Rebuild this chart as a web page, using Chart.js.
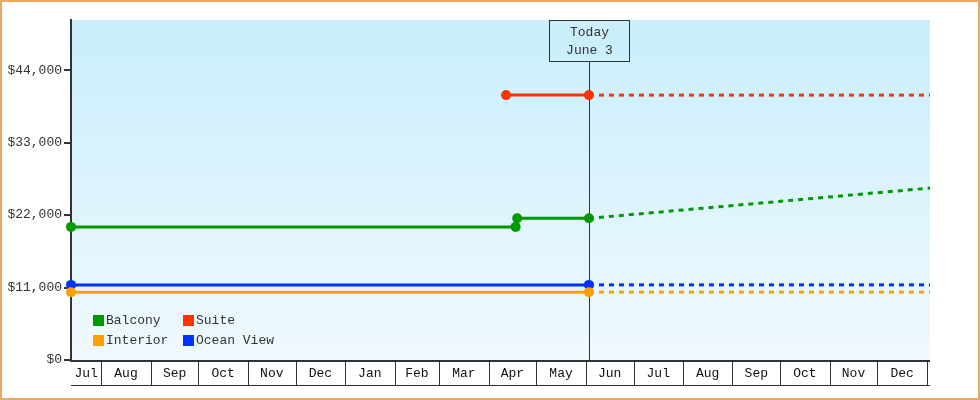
<!DOCTYPE html>
<html>
<head>
<meta charset="utf-8">
<script src="https://cdn.jsdelivr.net/npm/chart.js@4.4.0/dist/chart.umd.min.js"></script>
<style>
  html, body { margin: 0; padding: 0; background: #fff; }
  #wrap { width: 980px; height: 400px; }
</style>
</head>
<body>
<div id="wrap"><canvas id="priceChart" width="980" height="400"></canvas></div>
<script>
// --- Data ---
const seriesNames = ['Balcony', 'Suite', 'Interior', 'Ocean View'];
const seriesColors = ['#009900', '#ff3300', '#ffa000', '#0033ff'];

// recorded prices (solid) and projected prices (dashed)
const balconyDates = ['2022-07-13', '2023-04-18', '2023-04-19', '2023-06-03'];
const balconyPrices = [20200, 20200, 21500, 21500];
const balconyForecastDates = ['2023-06-03', '2024-01-03'];
const balconyForecast = [21500, 26100];

const suiteDates = ['2023-04-12', '2023-06-03'];
const suitePrices = [40200, 40200];
const suiteForecastDates = ['2023-06-03', '2024-01-03'];
const suiteForecast = [40200, 40200];

const interiorDates = ['2022-07-13', '2023-06-03'];
const interiorPrices = [10300, 10300];
const interiorForecastDates = ['2023-06-03', '2024-01-03'];
const interiorForecast = [10300, 10300];

const oceanDates = ['2022-07-13', '2023-06-03'];
const oceanPrices = [11400, 11400];
const oceanForecastDates = ['2023-06-03', '2024-01-03'];
const oceanForecast = [11400, 11400];

const monthLabels = ['Jul', 'Aug', 'Sep', 'Oct', 'Nov', 'Dec', 'Jan', 'Feb', 'Mar',
                     'Apr', 'May', 'Jun', 'Jul', 'Aug', 'Sep', 'Oct', 'Nov', 'Dec'];
const yTicks = [0, 11000, 22000, 33000, 44000];
const todayDate = '2023-06-03';
const todayText = ['Today', 'June 3'];
const axisStart = '2022-07-13';
const axisEnd = '2024-01-03';

// --- Helpers ---
const EPOCH = Date.UTC(2022, 6, 1);
function dayNum(s) {
    return (Date.parse(s + 'T00:00:00Z') - EPOCH) / 86400000;
}
function toPoints(dates, values) {
    return dates.map((d, i) => ({ x: dayNum(d), y: values[i] }));
}

const FONT = "'Liberation Mono', 'DejaVu Sans Mono', monospace";
const INK = '#333333';

const solid = [
    toPoints(balconyDates, balconyPrices),
    toPoints(suiteDates, suitePrices),
    toPoints(interiorDates, interiorPrices),
    toPoints(oceanDates, oceanPrices)
];
const dashed = [
    toPoints(balconyForecastDates, balconyForecast),
    toPoints(suiteForecastDates, suiteForecast),
    toPoints(interiorForecastDates, interiorForecast),
    toPoints(oceanForecastDates, oceanForecast)
];

const datasets = [];
seriesNames.forEach((name, i) => {
    datasets.push({
        label: name + ' forecast',
        data: dashed[i],
        borderColor: seriesColors[i],
        borderWidth: 3,
        borderDash: [5, 5],
        pointRadius: 0,
        clip: false
    });
    datasets.push({
        label: name,
        data: solid[i],
        borderColor: seriesColors[i],
        backgroundColor: seriesColors[i],
        borderWidth: 3,
        pointRadius: 5,
        pointStyle: 'circle',
        pointBorderWidth: 0,
        clip: false
    });
});

// --- Custom drawing: background, month cells, today marker, legend, frame ---
const decorPlugin = {
    id: 'decor',
    beforeDraw(chart) {
        const { ctx, chartArea: a } = chart;
        ctx.save();
        ctx.fillStyle = '#ffffff';
        ctx.fillRect(0, 0, chart.width, chart.height);
        const g = ctx.createLinearGradient(0, a.top, 0, a.bottom);
        g.addColorStop(0, '#c9eefc');
        g.addColorStop(1, '#f0f9fe');
        ctx.fillStyle = g;
        ctx.fillRect(a.left, a.top, a.right - a.left, a.bottom - a.top);
        ctx.restore();
    },
    beforeDatasetsDraw(chart) {
        const { ctx, chartArea: a, scales: { x } } = chart;
        const tx = Math.round(x.getPixelForValue(dayNum(todayDate))) + 0.5;
        const boxW = 80, boxH = 41;
        ctx.save();
        ctx.strokeStyle = INK;
        ctx.lineWidth = 1;
        ctx.strokeRect(tx - boxW / 2, a.top + 0.5, boxW, boxH);
        ctx.beginPath();
        ctx.moveTo(tx, a.top + 0.5 + boxH);
        ctx.lineTo(tx, a.bottom);
        ctx.stroke();
        ctx.fillStyle = INK;
        ctx.font = '13px ' + FONT;
        ctx.textAlign = 'center';
        ctx.textBaseline = 'middle';
        ctx.fillText(todayText[0], tx, a.top + 13);
        ctx.fillText(todayText[1], tx, a.top + 31);
        ctx.restore();
    },
    afterDraw(chart) {
        const { ctx, chartArea: a, scales: { x } } = chart;
        const rowH = 25;
        ctx.save();
        ctx.strokeStyle = INK;
        // x axis line and bottom of month row
        ctx.lineWidth = 2;
        ctx.beginPath();
        ctx.moveTo(a.left - 1, a.bottom + 1);
        ctx.lineTo(a.right, a.bottom + 1);
        ctx.stroke();
        ctx.lineWidth = 1;
        ctx.beginPath();
        ctx.moveTo(a.left, a.bottom + rowH + 0.5);
        ctx.lineTo(a.right, a.bottom + rowH + 0.5);
        ctx.stroke();

        // month cells
        ctx.font = '13px ' + FONT;
        ctx.fillStyle = '#111';
        ctx.textAlign = 'center';
        ctx.textBaseline = 'middle';
        const lo = x.min, hi = x.max;
        monthLabels.forEach((m, i) => {
            const start = (Date.UTC(2022, 6 + i, 1) - EPOCH) / 86400000;
            const end = (Date.UTC(2022, 7 + i, 1) - EPOCH) / 86400000;
            const s = Math.max(start, lo), e = Math.min(end, hi);
            const xs = x.getPixelForValue(s), xe = x.getPixelForValue(end);
            if (start > lo) {
                const px = Math.round(xs) + 0.5;
                ctx.beginPath();
                ctx.moveTo(px, a.bottom + 1);
                ctx.lineTo(px, a.bottom + rowH);
                ctx.stroke();
            }
            if (end <= hi + 3) {
                const px = Math.round(xe) + 0.5;
                ctx.beginPath();
                ctx.moveTo(px, a.bottom + 1);
                ctx.lineTo(px, a.bottom + rowH);
                ctx.stroke();
            }
            ctx.fillText(m, (xs + x.getPixelForValue(Math.min(end, hi))) / 2, a.bottom + 14);
        });

        // legend, two columns
        const lx = [a.left + 22, a.left + 112];
        const ly = [a.bottom - 40, a.bottom - 20];
        ctx.textAlign = 'left';
        seriesNames.forEach((name, i) => {
            const cx = lx[i % 2], cy = ly[Math.floor(i / 2)];
            ctx.fillStyle = seriesColors[i];
            ctx.fillRect(cx, cy - 5, 11, 11);
            ctx.fillStyle = INK;
            ctx.fillText(name, cx + 13, cy + 1);
        });

        // outer frame
        ctx.strokeStyle = '#eaa95f';
        ctx.lineWidth = 2;
        ctx.strokeRect(1, 1, chart.width - 2, chart.height - 2);
        ctx.restore();
    }
};

const ctx = document.getElementById('priceChart').getContext('2d');
new Chart(ctx, {
    type: 'line',
    data: { datasets: datasets },
    options: {
        responsive: false,
        animation: false,
        layout: { padding: { left: 0, right: 50, top: 20, bottom: 40 } },
        plugins: {
            legend: { display: false },
            tooltip: { enabled: false }
        },
        elements: { line: { tension: 0 } },
        scales: {
            x: {
                type: 'linear',
                display: false,
                min: dayNum(axisStart),
                max: dayNum(axisEnd)
            },
            y: {
                min: 0,
                max: 51600,
                afterBuildTicks: (scale) => { scale.ticks = yTicks.map(v => ({ value: v })); },
                afterFit: (scale) => { scale.width = 71; },
                ticks: {
                    color: INK,
                    font: { family: FONT, size: 13 },
                    padding: 2,
                    callback: (v) => '$' + v.toLocaleString('en-US')
                },
                grid: { drawOnChartArea: false, tickLength: 7, color: INK, lineWidth: 2 },
                border: { color: INK, width: 2 }
            }
        }
    },
    plugins: [decorPlugin]
});
</script>
</body>
</html>
